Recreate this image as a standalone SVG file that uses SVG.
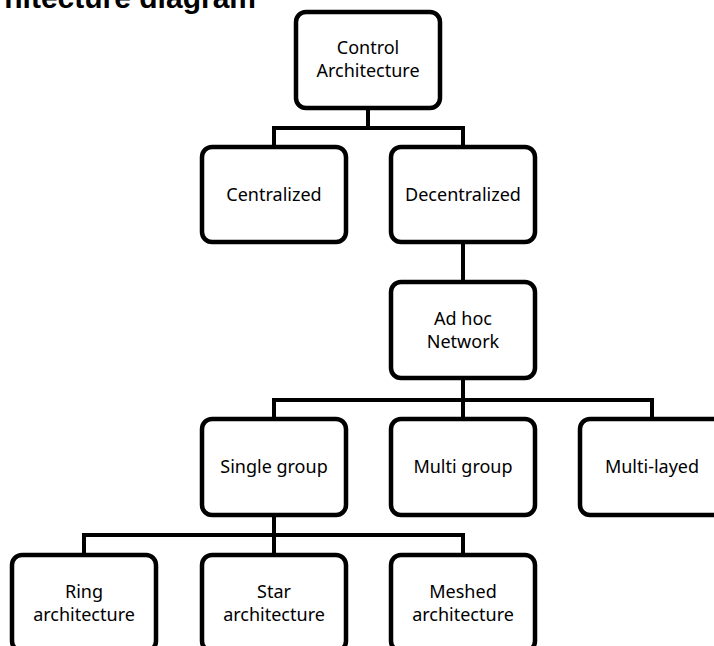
<svg xmlns="http://www.w3.org/2000/svg" width="714" height="646" viewBox="0 0 714 646">
  <style>
    .box { fill: #ffffff; stroke: #000000; stroke-width: 4.5; }
    .wire { fill: none; stroke: #000000; stroke-width: 4; stroke-linejoin: miter; }
    .lbl { font-family: "Noto Sans", "Open Sans", sans-serif; font-size: 18px; fill: #000000; text-anchor: middle; }
    .title { font-family: "Liberation Sans", Arial, sans-serif; font-size: 30px; font-weight: bold; fill: #000000; text-anchor: end; }
  </style>
  <rect width="714" height="646" fill="#ffffff"/>

  <text class="title" x="256" y="7.5">hitecture diagram</text>

  <!-- tree connectors -->
  <g id="connectors">
    <path class="wire" d="M368 108 V128 M274 147 V128 H463 V147"/>
    <path class="wire" d="M463 242 V282"/>
    <path class="wire" d="M463 378 V400 M274 419 V400 H652 V419 M463 400 V419"/>
    <path class="wire" d="M274 515 V535 M84 555 V535 H463 V555 M274 535 V555"/>
  </g>

  <g id="control-architecture">
    <rect class="box" x="296" y="12" width="144" height="96" rx="10"/>
    <text class="lbl" x="368" y="54">Control</text>
    <text class="lbl" x="368" y="77">Architecture</text>
  </g>

  <g id="centralized">
    <rect class="box" x="202" y="147" width="144" height="95" rx="10"/>
    <text class="lbl" x="274" y="201">Centralized</text>
  </g>

  <g id="decentralized">
    <rect class="box" x="391" y="147" width="144" height="95" rx="10"/>
    <text class="lbl" x="463" y="201">Decentralized</text>
  </g>

  <g id="ad-hoc-network">
    <rect class="box" x="391" y="282" width="144" height="96" rx="10"/>
    <text class="lbl" x="463" y="325">Ad hoc</text>
    <text class="lbl" x="463" y="348">Network</text>
  </g>

  <g id="single-group">
    <rect class="box" x="202" y="419" width="144" height="96" rx="10"/>
    <text class="lbl" x="274" y="473">Single group</text>
  </g>

  <g id="multi-group">
    <rect class="box" x="391" y="419" width="144" height="96" rx="10"/>
    <text class="lbl" x="463" y="473">Multi group</text>
  </g>

  <g id="multi-layed">
    <rect class="box" x="580" y="419" width="144" height="96" rx="10"/>
    <text class="lbl" x="652" y="473">Multi-layed</text>
  </g>

  <g id="ring-architecture">
    <rect class="box" x="12" y="555" width="144" height="96" rx="10"/>
    <text class="lbl" x="84" y="598">Ring</text>
    <text class="lbl" x="84" y="621">architecture</text>
  </g>

  <g id="star-architecture">
    <rect class="box" x="202" y="555" width="144" height="96" rx="10"/>
    <text class="lbl" x="274" y="598">Star</text>
    <text class="lbl" x="274" y="621">architecture</text>
  </g>

  <g id="meshed-architecture">
    <rect class="box" x="391" y="555" width="144" height="96" rx="10"/>
    <text class="lbl" x="463" y="598">Meshed</text>
    <text class="lbl" x="463" y="621">architecture</text>
  </g>
</svg>
